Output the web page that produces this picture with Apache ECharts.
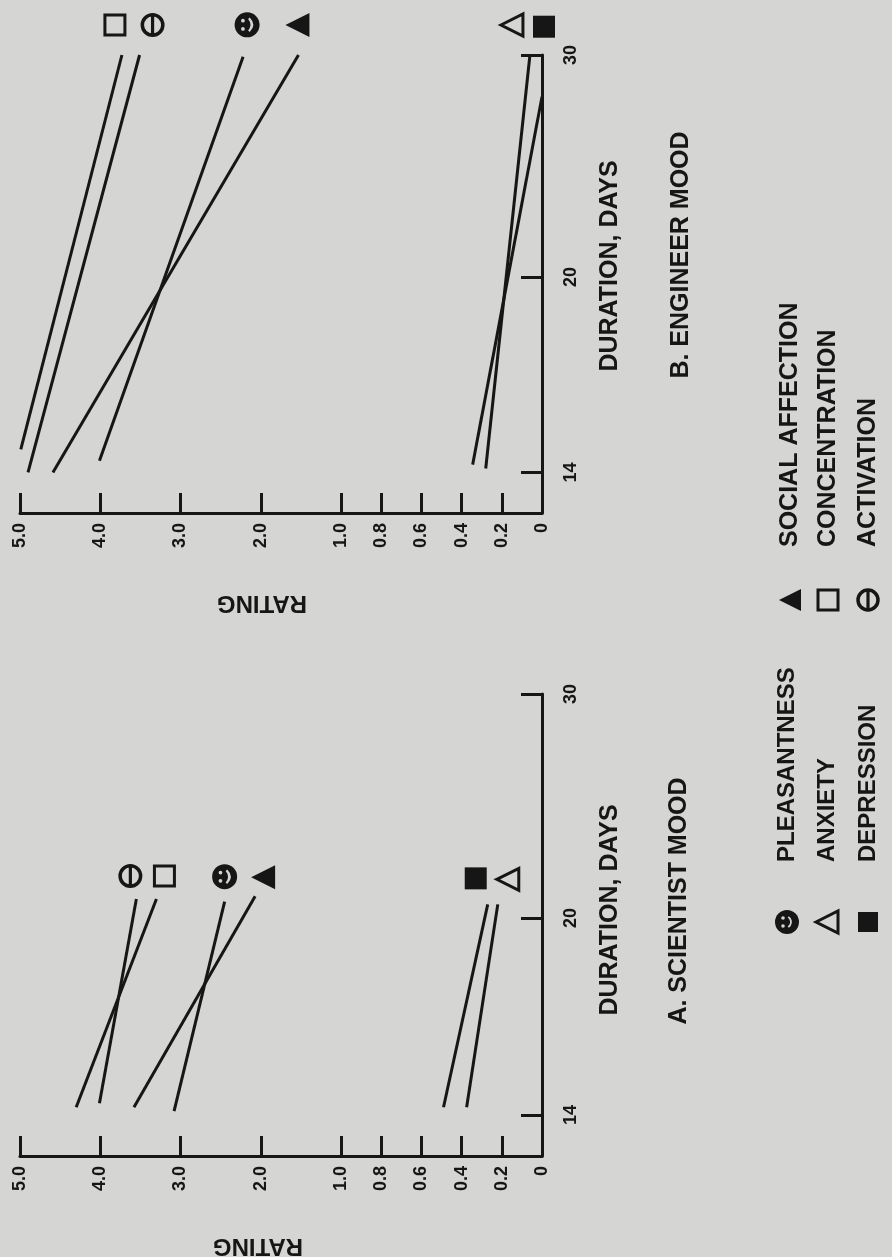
<!DOCTYPE html>
<html>
<head>
<meta charset="utf-8">
<style>
  html, body { margin: 0; padding: 0; background: #d5d5d3; }
  #chart { width: 892px; height: 1257px; }
</style>
<script src="https://cdn.jsdelivr.net/npm/echarts@6/dist/echarts.min.js"></script>
</head>
<body>
<div id="chart"></div>
<script>
// each line: [rating, duration in days] at its two ends
// A. scientist mood
var sciPleasantness = [[3.08, 14.1], [2.45, 20.6]];
var sciSocial = [[3.58, 14.2], [2.07, 20.8]];
var sciConcentration = [[4.30, 14.2], [3.30, 20.7]];
var sciActivation = [[4.01, 14.3], [3.55, 20.7]];
var sciAnxiety = [[0.375, 14.2], [0.22, 20.5]];
var sciDepression = [[0.49, 14.2], [0.27, 20.5]];

// B. engineer mood
var engPleasantness = [[4.01, 14.3], [2.22, 29.9]];
var engSocial = [[4.59, 14.0], [1.53, 30.0]];
var engConcentration = [[4.99, 14.6], [3.73, 30.0]];
var engActivation = [[4.90, 14.0], [3.51, 30.0]];
var engAnxiety = [[0.28, 14.1], [0.06, 30.0]];
var engDepression = [[0.345, 14.2], [0.0, 27.8]];

var durationTicks = [14, 20, 30];
var names = ['PLEASANTNESS', 'SOCIAL AFFECTION', 'CONCENTRATION', 'ACTIVATION', 'ANXIETY', 'DEPRESSION'];

var INK = '#161616';
var PAPER = '#d5d5d3';
var FONT = '"Liberation Sans", Arial, sans-serif';

// end markers, drawn the way the figure is turned (pointing left)
var FACE = 'path://M12,0 A12,12 0 1,1 12,24 A12,12 0 1,1 12,0 Z' +
  ' M8,6.2 A1.8,1.8 0 1,0 8,9.8 A1.8,1.8 0 1,0 8,6.2 Z' +
  ' M8,14.2 A1.8,1.8 0 1,0 8,17.8 A1.8,1.8 0 1,0 8,14.2 Z' +
  ' M13,6.5 Q17.5,12 13,17.5 L14.5,19 Q21.5,12 14.5,5 Z';
var RING = 'path://M12,0 A12,12 0 1,1 12,24 A12,12 0 1,1 12,0 Z' +
  ' M12,3.5 A8.5,8.5 0 1,0 12,20.5 A8.5,8.5 0 1,0 12,3.5 Z' +
  ' M10.4,3 L13.6,3 L13.6,21 L10.4,21 Z';
var TRI = 'path://M0,11 L21,0 L21,22 Z';

var markerStyle = [
  {symbol: FACE, size: 25, fill: INK, border: 0},
  {symbol: TRI, size: 24, fill: INK, border: 0},
  {symbol: 'rect', size: 20, fill: PAPER, border: 3},
  {symbol: RING, size: 24, fill: INK, border: 0},
  {symbol: TRI, size: 22, fill: PAPER, border: 3},
  {symbol: 'rect', size: 22, fill: INK, border: 0}
];
var sciShift = [[0, -25], [8, -19], [8, -23], [-6, -23], [10, -25], [-12, -26]];
var engShift = [[4, -32], [-1, -30], [-7, -30], [13, -30], [-18, -30], [2, -70]];

function lineSeries(data, k, hiGrid, loGrid, shift) {
  var m = markerStyle[k];
  var axis = k < 4 ? hiGrid : loGrid;
  return {
    name: names[k],
    type: 'line',
    xAxisIndex: axis,
    yAxisIndex: axis,
    data: data,
    symbol: 'none',
    clip: false,
    silent: true,
    lineStyle: {color: INK, width: 3},
    markPoint: {
      symbol: m.symbol,
      symbolSize: m.size,
      symbolOffset: shift[k],
      itemStyle: {color: m.fill, borderColor: INK, borderWidth: m.border},
      label: {show: false},
      data: [{coord: data[data.length - 1]}]
    }
  };
}

var labelFont = {color: INK, fontFamily: FONT, fontWeight: 'bold', fontSize: 18};

function ratingAxis(grid, lo) {
  return {
    type: 'value', gridIndex: grid, inverse: true,
    min: lo ? 0 : 1, max: lo ? 1 : 5, interval: lo ? 0.2 : 1,
    axisLine: {show: true, lineStyle: {color: INK, width: 3}},
    axisTick: {show: true, inside: true, length: 20, lineStyle: {color: INK, width: 3}},
    splitLine: {show: false},
    axisLabel: Object.assign({
      rotate: 90, margin: 10,
      formatter: function (v) {
        if (lo && v > 0.99) return '';
        if (v === 0) return '0';
        return v.toFixed(1);
      }
    }, labelFont)
  };
}

function durationAxis(grid, visible) {
  if (!visible) {
    return {type: 'log', gridIndex: grid, min: 13, max: 30, show: false};
  }
  return {
    type: 'log', gridIndex: grid, min: 13, max: 30, position: 'right',
    axisLine: {show: true, lineStyle: {color: INK, width: 3}},
    axisTick: {show: true, inside: true, length: 21, customValues: durationTicks,
      lineStyle: {color: INK, width: 3}},
    splitLine: {show: false},
    axisLabel: Object.assign({
      rotate: 90, margin: 20, customValues: durationTicks,
      formatter: function (v) { return String(Math.round(v)); }
    }, labelFont)
  };
}

function txt(x, y, text, size, rot, align) {
  return {
    type: 'text', x: x, y: y, rotation: rot, silent: true,
    style: {text: text, fill: INK, font: 'bold ' + size + 'px ' + FONT,
      align: align || 'center', verticalAlign: 'middle'}
  };
}

// legend swatches built from plain shapes
function swatch(kind, cx, cy) {
  var r = 11;
  if (kind === 'triFill' || kind === 'triOpen') {
    return {type: 'polygon', silent: true,
      shape: {points: [[cx - r, cy], [cx + r, cy - r], [cx + r, cy + r]]},
      style: kind === 'triFill' ? {fill: INK} : {fill: PAPER, stroke: INK, lineWidth: 3}};
  }
  if (kind === 'sqOpen' || kind === 'sqFill') {
    return {type: 'rect', silent: true,
      shape: {x: cx - 10, y: cy - 10, width: 20, height: 20},
      style: kind === 'sqFill' ? {fill: INK} : {fill: PAPER, stroke: INK, lineWidth: 3}};
  }
  if (kind === 'ring') {
    return {type: 'group', silent: true, children: [
      {type: 'circle', shape: {cx: cx, cy: cy, r: 10}, style: {fill: 'none', stroke: INK, lineWidth: 3.5}},
      {type: 'rect', shape: {x: cx - 1.6, y: cy - 9, width: 3.2, height: 18}, style: {fill: INK}}
    ]};
  }
  return {type: 'group', silent: true, children: [
    {type: 'circle', shape: {cx: cx, cy: cy, r: 12}, style: {fill: INK}},
    {type: 'circle', shape: {cx: cx - 4, cy: cy - 4, r: 1.8}, style: {fill: PAPER}},
    {type: 'circle', shape: {cx: cx - 4, cy: cy + 4, r: 1.8}, style: {fill: PAPER}},
    {type: 'arc', shape: {cx: cx - 2, cy: cy, r: 6, startAngle: -1.0, endAngle: 1.0},
      style: {stroke: PAPER, lineWidth: 1.8, fill: 'none'}}
  ]};
}

var HALF = Math.PI / 2;
var graphics = [
  txt(610, 266, 'DURATION, DAYS', 25, HALF),
  txt(681, 255, 'B. ENGINEER MOOD', 25, HALF),
  txt(262, 603, 'RATING', 24, Math.PI),
  txt(610, 910, 'DURATION, DAYS', 25, HALF),
  txt(679, 901, 'A. SCIENTIST MOOD', 25, HALF),
  txt(258, 1246, 'RATING', 24, Math.PI),

  swatch('triFill', 790, 600), txt(790, 547, names[1], 25, HALF, 'left'),
  swatch('sqOpen', 828, 600), txt(828, 547, names[2], 25, HALF, 'left'),
  swatch('ring', 868, 600), txt(868, 547, names[3], 25, HALF, 'left'),

  swatch('face', 787, 922), txt(787, 862, names[0], 24, HALF, 'left'),
  swatch('triOpen', 827, 922), txt(827, 862, names[4], 24, HALF, 'left'),
  swatch('sqFill', 868, 922), txt(868, 862, names[5], 24, HALF, 'left')
];

var sci = [sciPleasantness, sciSocial, sciConcentration, sciActivation, sciAnxiety, sciDepression];
var eng = [engPleasantness, engSocial, engConcentration, engActivation, engAnxiety, engDepression];
var series = [];
eng.forEach(function (d, k) { series.push(lineSeries(d, k, 0, 1, engShift)); });
sci.forEach(function (d, k) { series.push(lineSeries(d, k, 2, 3, sciShift)); });

var chart = echarts.init(document.getElementById('chart'), null, {renderer: 'canvas'});
chart.setOption({
  backgroundColor: PAPER,
  animation: false,
  grid: [
    {left: 20, top: 55, width: 321, height: 458},
    {left: 341, top: 55, width: 201, height: 458},
    {left: 20, top: 694, width: 321, height: 462},
    {left: 341, top: 694, width: 201, height: 462}
  ],
  xAxis: [ratingAxis(0, false), ratingAxis(1, true), ratingAxis(2, false), ratingAxis(3, true)],
  yAxis: [durationAxis(0, false), durationAxis(1, true), durationAxis(2, false), durationAxis(3, true)],
  series: series,
  graphic: graphics
});
</script>
</body>
</html>
